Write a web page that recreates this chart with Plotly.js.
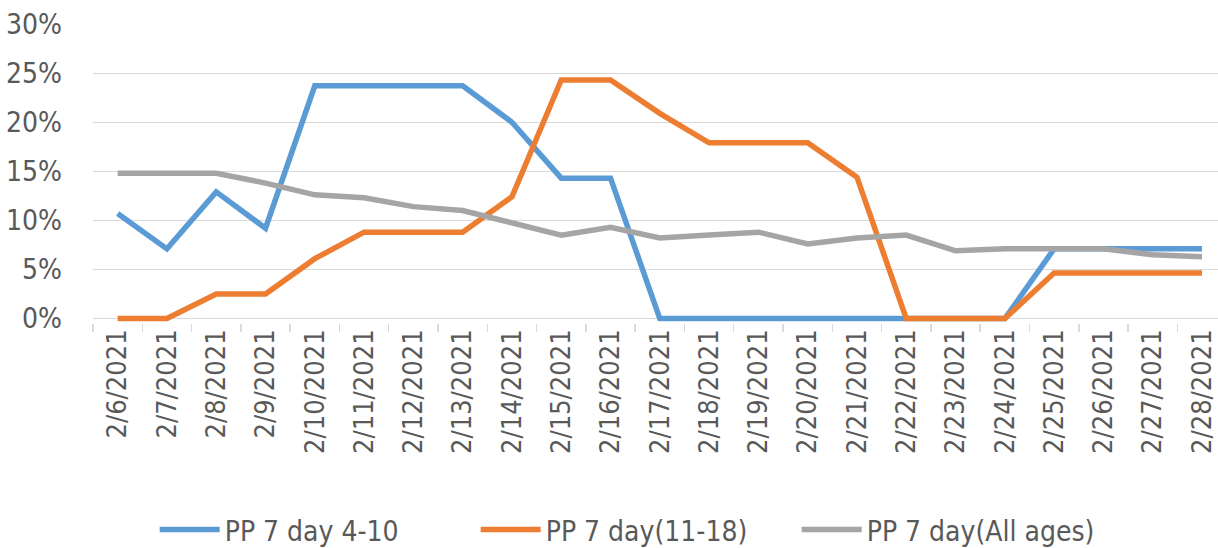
<!DOCTYPE html>
<html>
<head>
<meta charset="utf-8">
<script src="https://cdn.plot.ly/plotly-3.0.1.min.js"></script>
<style>html,body{margin:0;padding:0;background:#fff;}#chart{width:1218px;height:548px;}</style>
</head>
<body>
<div id="chart"></div>
<script>
const dates = ["2/6/2021","2/7/2021","2/8/2021","2/9/2021","2/10/2021","2/11/2021","2/12/2021","2/13/2021","2/14/2021","2/15/2021","2/16/2021","2/17/2021","2/18/2021","2/19/2021","2/20/2021","2/21/2021","2/22/2021","2/23/2021","2/24/2021","2/25/2021","2/26/2021","2/27/2021","2/28/2021"];
const seriesNames = ["PP 7 day 4-10","PP 7 day(11-18)","PP 7 day(All ages)"];
const age4to10 = [0.107,0.071,0.129,0.092,0.237,0.237,0.237,0.237,0.200,0.143,0.143,0,0,0,0,0,0,0,0,0.071,0.071,0.071,0.071];
const age11to18 = [0,0,0.025,0.025,0.061,0.088,0.088,0.088,0.124,0.243,0.243,0.209,0.179,0.179,0.179,0.144,0,0,0,0.0465,0.0465,0.0465,0.0465];
const allAges = [0.148,0.148,0.148,0.138,0.126,0.123,0.114,0.110,0.097,0.085,0.093,0.082,0.085,0.088,0.076,0.082,0.085,0.069,0.071,0.071,0.071,0.065,0.063];
const yTicks = [0,0.05,0.10,0.15,0.20,0.25,0.30];
const yTickText = ["0%","5%","10%","15%","20%","25%","30%"];
const colors = ["#5B9BD5","#ED7D31","#A5A5A5"];

const font = '"DejaVu Sans Condensed", "Liberation Sans", sans-serif';
const values = [age4to10, age11to18, allAges];
const traces = values.map((v,i)=>({
  x: dates, y: v, type:'scatter', mode:'lines', name: seriesNames[i],
  line:{color: colors[i], width:5.5, shape:'linear'}, hoverinfo:'skip'
}));

const layout = {
  width:1218, height:548,
  margin:{l:93.4, r:0, t:24, b:225.3},
  paper_bgcolor:'#fff', plot_bgcolor:'#fff',
  showlegend:true,
  legend:{orientation:'h', xref:'container', yref:'container', x:0.127, xanchor:'left', y:0.033, yanchor:'middle',
    font:{family:font, size:28, color:'#595959'}, itemwidth:60, entrywidth:246, entrywidthmode:'pixels', tracegroupgap:0},
  xaxis:{type:'category', range:[-0.5,22.325], tickson:'boundaries', ticks:'outside', ticklen:8, tickcolor:'#D9D9D9',
    tickwidth:1.5, showgrid:false, showline:false, zeroline:false, tickangle:-90,
    tickfont:{family:font, size:27, color:'#595959'}, fixedrange:true},
  yaxis:{range:[-0.0045,0.30], tickvals:yTicks, ticktext:yTickText, showgrid:true, gridcolor:'#D9D9D9', gridwidth:1.2,
    zeroline:true, zerolinecolor:'#D9D9D9', zerolinewidth:1.5, showline:false, ticks:'', ticklabelstandoff:30,
    tickfont:{family:font, size:28, color:'#595959'}, fixedrange:true}
};
Plotly.newPlot('chart', traces, layout, {staticPlot:true, displayModeBar:false});
</script>
</body>
</html>
